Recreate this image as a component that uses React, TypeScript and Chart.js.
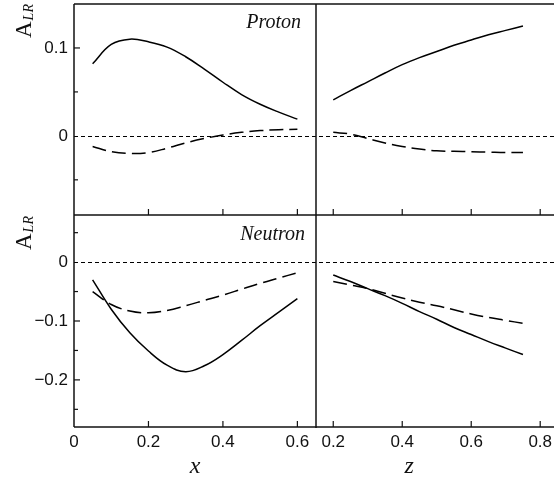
import React, { useEffect, useRef } from "react";
import { Chart, registerables } from "chart.js";
Chart.register(...registerables);

// x grid for left panels (x variable)
const xGrid = [0.05, 0.1, 0.15, 0.2, 0.25, 0.3, 0.35, 0.4, 0.45, 0.5, 0.55, 0.6];
const protonXSolid = [0.082, 0.104, 0.11, 0.107, 0.101, 0.09, 0.076, 0.061, 0.047, 0.036, 0.027, 0.019];
const protonXDashed = [-0.012, -0.018, -0.02, -0.019, -0.014, -0.008, -0.003, 0.001, 0.004, 0.006, 0.007, 0.0075];
const neutronXSolid = [-0.03, -0.08, -0.12, -0.151, -0.175, -0.186, -0.176, -0.157, -0.133, -0.108, -0.085, -0.062];
const neutronXDashed = [-0.05, -0.072, -0.083, -0.086, -0.082, -0.074, -0.065, -0.056, -0.046, -0.036, -0.027, -0.018];

// z grid for right panels (z variable)
const zGrid = [0.2, 0.25, 0.3, 0.35, 0.4, 0.45, 0.5, 0.55, 0.6, 0.65, 0.7, 0.75];
const protonZSolid = [0.041, 0.0515, 0.0615, 0.0715, 0.081, 0.089, 0.096, 0.103, 0.109, 0.115, 0.12, 0.125];
const protonZDashed = [0.004, 0.002, -0.003, -0.008, -0.012, -0.015, -0.017, -0.0175, -0.018, -0.0185, -0.019, -0.019];
const neutronZSolid = [-0.022, -0.033, -0.045, -0.057, -0.07, -0.084, -0.097, -0.111, -0.123, -0.135, -0.146, -0.157];
const neutronZDashed = [-0.033, -0.039, -0.045, -0.053, -0.061, -0.068, -0.074, -0.081, -0.088, -0.094, -0.099, -0.104];

// ticks
const xTicks = [0, 0.2, 0.4, 0.6];
const zTicks = [0.2, 0.4, 0.6, 0.8];
const yTopTicks = [-0.05, 0, 0.05, 0.1];
const yBottomTicks = [-0.25, -0.2, -0.15, -0.1, -0.05, 0, 0.05];

const panelLabels = ["Proton", "Neutron"];

const fmt = (v: number) => {
  const r = Math.round(v * 100) / 100;
  if (r === 0) return "0";
  return (r < 0 ? "\u2212" : "") + Math.abs(r).toString();
};
const isMajorY = (v: number) => Math.abs(Math.round(v * 100)) % 10 === 0;

const pts = (xs: number[], ys: number[]) => xs.map((x, i) => ({ x, y: ys[i] }));

const tickFont = { family: "'Liberation Sans', Arial, sans-serif", size: 17 };

const zeroPad = (s: any) => {
  s.paddingTop = 0;
  s.paddingBottom = 0;
  s.paddingLeft = 0;
  s.paddingRight = 0;
};

const framePlugin = {
  id: "frame",
  beforeDatasetsDraw(chart: any) {
    const { ctx, chartArea: a, scales } = chart;
    ctx.save();
    ctx.strokeStyle = "#000";
    ctx.lineWidth = 1;
    ctx.setLineDash([4, 3]);
    for (const s of [scales.yT, scales.yB]) {
      const y = Math.round(s.getPixelForValue(0)) + 0.5;
      ctx.beginPath();
      ctx.moveTo(a.left, y);
      ctx.lineTo(a.right, y);
      ctx.stroke();
    }
    ctx.restore();
  },
  afterDatasetsDraw(chart: any) {
    const { ctx, chartArea: a, scales } = chart;
    const { x1, x2, yT, yB } = scales;
    const left = x1.left;
    const midX = x1.right;
    const right = a.right;
    const top = yT.top;
    const midY = yT.bottom;
    const bottom = yB.bottom;
    ctx.save();
    ctx.strokeStyle = "#111";
    ctx.lineWidth = 1.5;
    ctx.setLineDash([]);
    const line = (ax: number, ay: number, bx: number, by: number) => {
      ctx.beginPath();
      ctx.moveTo(ax, ay);
      ctx.lineTo(bx, by);
      ctx.stroke();
    };
    // frame
    line(left, top, right, top);
    line(left, midY, right, midY);
    line(left, bottom, right, bottom);
    line(left, top, left, bottom);
    line(midX, top, midX, bottom + 1);
    // y ticks (inward)
    ctx.lineWidth = 1.2;
    for (const s of [yT, yB]) {
      for (const t of s.ticks) {
        const y = s.getPixelForValue(t.value);
        const len = isMajorY(t.value) ? 6 : 4;
        if (t.value === 0) continue;
        line(left, y, left + len, y);
      }
    }
    // x ticks (inward, upward)
    for (const s of [x1, x2]) {
      for (const t of s.ticks) {
        if (t.value === 0) continue;
        const x = s.getPixelForValue(t.value);
        line(x, midY, x, midY - 6);
        line(x, bottom, x, bottom - 6);
      }
    }
    // panel labels
    ctx.fillStyle = "#111";
    ctx.font = "italic 20px 'Liberation Serif', 'Times New Roman', serif";
    ctx.textAlign = "right";
    ctx.textBaseline = "alphabetic";
    ctx.fillText(panelLabels[0], midX - 15, top + 24);
    ctx.fillText(panelLabels[1], midX - 11, midY + 25);
    // axis titles
    ctx.textAlign = "center";
    ctx.font = "italic 24px 'Liberation Serif', 'Times New Roman', serif";
    ctx.fillText("x", x1.getPixelForValue(0.325), bottom + 46);
    ctx.fillText("z", x2.getPixelForValue(0.42), bottom + 46);
    // y titles A_LR rotated
    const drawALR = (baseX: number, startY: number) => {
      ctx.save();
      ctx.translate(baseX, startY);
      ctx.rotate(-Math.PI / 2);
      ctx.textAlign = "left";
      ctx.font = "23px 'Liberation Serif', 'Times New Roman', serif";
      ctx.fillText("A", 0, 0);
      const w = ctx.measureText("A").width;
      ctx.font = "italic 14px 'Liberation Serif', 'Times New Roman', serif";
      ctx.fillText("LR", w + 1, 2);
      ctx.restore();
    };
    drawALR(31, top + 34);
    drawALR(31, midY + 35);
    ctx.restore();
  },
};

export default function App() {
  const ref = useRef<HTMLCanvasElement | null>(null);
  useEffect(() => {
    if (!ref.current) return;
    const solid = { borderColor: "#000", borderWidth: 1.5, pointRadius: 0, tension: 0.4, fill: false };
    const dashed = { ...solid, borderDash: [14, 6] };
    const chart = new Chart(ref.current, {
      type: "line",
      data: {
        datasets: [
          { ...solid, label: "p x solid", data: pts(xGrid, protonXSolid), xAxisID: "x1", yAxisID: "yT" },
          { ...dashed, label: "p x dashed", data: pts(xGrid, protonXDashed), xAxisID: "x1", yAxisID: "yT" },
          { ...solid, label: "p z solid", data: pts(zGrid, protonZSolid), xAxisID: "x2", yAxisID: "yT" },
          { ...dashed, label: "p z dashed", data: pts(zGrid, protonZDashed), xAxisID: "x2", yAxisID: "yT" },
          { ...solid, label: "n x solid", data: pts(xGrid, neutronXSolid), xAxisID: "x1", yAxisID: "yB" },
          { ...dashed, label: "n x dashed", data: pts(xGrid, neutronXDashed), xAxisID: "x1", yAxisID: "yB" },
          { ...solid, label: "n z solid", data: pts(zGrid, neutronZSolid), xAxisID: "x2", yAxisID: "yB" },
          { ...dashed, label: "n z dashed", data: pts(zGrid, neutronZDashed), xAxisID: "x2", yAxisID: "yB" },
        ] as any,
      },
      options: {
        responsive: false,
        maintainAspectRatio: false,
        animation: false,
        events: [],
        layout: { padding: { top: 4, left: 0, right: 0, bottom: 0 } },
        plugins: { legend: { display: false }, tooltip: { enabled: false } },
        scales: {
          x1: {
            type: "linear", position: "bottom", stack: "x", stackWeight: 242,
            min: 0, max: 0.65,
            grid: { display: false, drawTicks: false }, border: { display: false },
            afterFit: (s: any) => { s.height = 55; zeroPad(s); },
            afterBuildTicks: (s: any) => { s.ticks = xTicks.map((v) => ({ value: v })); },
            ticks: { autoSkip: false, maxRotation: 0, padding: 5, color: "#111", font: tickFont, callback: (v: any) => fmt(Number(v)) },
          },
          x2: {
            type: "linear", position: "bottom", stack: "x", stackWeight: 238,
            min: 0.15, max: 0.84,
            grid: { display: false, drawTicks: false }, border: { display: false },
            afterFit: (s: any) => { s.height = 55; zeroPad(s); },
            afterBuildTicks: (s: any) => { s.ticks = zTicks.map((v) => ({ value: v })); },
            ticks: { autoSkip: false, maxRotation: 0, padding: 5, color: "#111", font: tickFont, callback: (v: any) => fmt(Number(v)) },
          },
          yB: {
            type: "linear", position: "left", stack: "y", stackWeight: 212,
            min: -0.28, max: 0.08,
            grid: { display: false, drawTicks: false }, border: { display: false },
            afterFit: (s: any) => { s.width = 74; zeroPad(s); },
            afterBuildTicks: (s: any) => { s.ticks = yBottomTicks.map((v) => ({ value: v })); },
            ticks: { autoSkip: false, padding: 6, color: "#111", font: tickFont, callback: (v: any) => (isMajorY(Number(v)) ? fmt(Number(v)) : "") },
          },
          yT: {
            type: "linear", position: "left", stack: "y", stackWeight: 211,
            min: -0.09, max: 0.15,
            grid: { display: false, drawTicks: false }, border: { display: false },
            afterFit: (s: any) => { s.width = 74; zeroPad(s); },
            afterBuildTicks: (s: any) => { s.ticks = yTopTicks.map((v) => ({ value: v })); },
            ticks: { autoSkip: false, padding: 6, color: "#111", font: tickFont, callback: (v: any) => (isMajorY(Number(v)) ? fmt(Number(v)) : "") },
          },
        } as any,
      },
      plugins: [framePlugin],
    });
    return () => chart.destroy();
  }, []);
  return (
    <div style={{ position: "fixed", left: 0, top: 0, width: 554, height: 482, background: "#fff" }}>
      <canvas ref={ref} width={554} height={482} style={{ display: "block" }} />
    </div>
  );
}
